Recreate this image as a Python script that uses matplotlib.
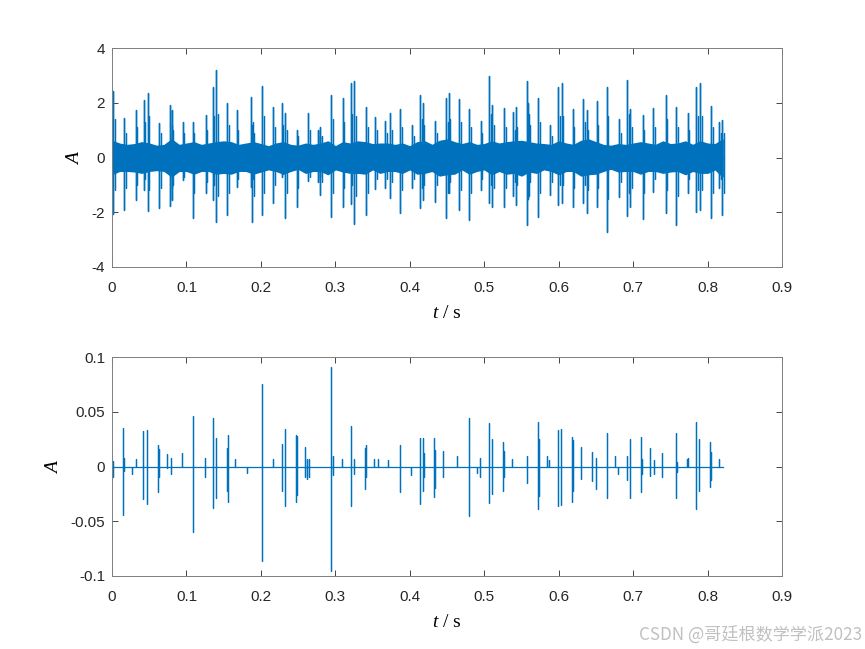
import numpy as np
import matplotlib
matplotlib.use('Agg')
import matplotlib.pyplot as plt

plt.rcParams['axes.unicode_minus'] = False
plt.rcParams['font.family'] = ['Liberation Sans', 'DejaVu Sans']
plt.rcParams['mathtext.fontset'] = 'custom'
plt.rcParams['mathtext.it'] = 'Liberation Serif:italic'
plt.rcParams['mathtext.rm'] = 'Liberation Serif'

blue = '#0072BD'

# ---- top panel: raw signal ----
# dense background band, sampled every 10 ms
t_env = np.round(np.arange(0, 0.821, 0.01), 2)
band_up = [0.6, 0.5, 0.45, 0.48, 0.55, 0.5, 0.42, 0.45, 0.65, 0.45,
           0.5, 0.55, 0.45, 0.5, 0.55, 0.58, 0.55, 0.45, 0.5, 0.55,
           0.48, 0.4, 0.5, 0.55, 0.45, 0.42, 0.5, 0.45, 0.5, 0.58,
           0.4, 0.55, 0.5, 0.58, 0.55, 0.48, 0.5, 0.5, 0.45, 0.5,
           0.4, 0.55, 0.58, 0.45, 0.6, 0.65, 0.55, 0.48, 0.55, 0.45,
           0.48, 0.58, 0.5, 0.55, 0.58, 0.6, 0.55, 0.5, 0.48, 0.45,
           0.58, 0.5, 0.45, 0.6, 0.65, 0.55, 0.45, 0.42, 0.48, 0.45,
           0.5, 0.55, 0.5, 0.45, 0.58, 0.48, 0.5, 0.58, 0.45, 0.58,
           0.5, 0.48, 0.65]
band_lo = [-0.6, -0.48, -0.48, -0.5, -0.55, -0.48, -0.45, -0.48, -0.68, -0.48,
           -0.48, -0.58, -0.48, -0.48, -0.58, -0.55, -0.58, -0.48, -0.48, -0.58,
           -0.5, -0.42, -0.48, -0.58, -0.48, -0.4, -0.55, -0.48, -0.48, -0.6,
           -0.42, -0.5, -0.55, -0.55, -0.58, -0.42, -0.55, -0.48, -0.48, -0.55,
           -0.42, -0.58, -0.55, -0.48, -0.65, -0.6, -0.58, -0.42, -0.58, -0.48,
           -0.42, -0.6, -0.48, -0.58, -0.55, -0.65, -0.5, -0.55, -0.42, -0.48,
           -0.6, -0.48, -0.48, -0.65, -0.6, -0.58, -0.48, -0.4, -0.5, -0.48,
           -0.48, -0.58, -0.48, -0.48, -0.55, -0.5, -0.48, -0.6, -0.48, -0.55,
           -0.55, -0.42, -0.68]

# impulses: time, positive peak, negative peak
sp_t = [0.0018, 0.016, 0.0318, 0.0425, 0.048, 0.0636, 0.078, 0.080, 0.095,
        0.1084, 0.1258, 0.135, 0.1402, 0.155, 0.1675, 0.1867, 0.188, 0.202,
        0.2167, 0.228, 0.2324, 0.2481, 0.2638, 0.2772, 0.2794, 0.2942, 0.3099,
        0.3206, 0.3251, 0.3412, 0.3533, 0.3667, 0.3735, 0.3873, 0.4034, 0.4137,
        0.4174, 0.4339, 0.4487, 0.4523, 0.4661, 0.480, 0.4953, 0.5064, 0.5109,
        0.5266, 0.539, 0.5423, 0.5579, 0.559, 0.5727, 0.5884, 0.5996, 0.6041,
        0.6189, 0.6332, 0.6377, 0.6511, 0.6646, 0.6811, 0.6923, 0.6959, 0.7129,
        0.7272, 0.7438, 0.7577, 0.7734, 0.7845, 0.7899, 0.8047, 0.8158, 0.8198]
sp_up = [2.44, 1.43, 1.74, 2.1, 2.37, 1.25, 1.92, 1.74, 1.31,
         1.31, 1.55, 2.56, 3.2, 1.98, 1.74, 2.22, 1.2, 2.61,
         1.86, 1.98, 1.61, 1.0, 1.61, 1.0, 1.13, 2.28, 2.19,
         2.73, 2.8, 1.86, 1.47, 1.33, 1.64, 1.76, 1.19, 2.28,
         1.98, 1.33, 2.16, 2.35, 2.13, 1.76, 1.34, 2.98, 1.92,
         1.82, 1.68, 1.86, 2.8, 1.98, 2.16, 1.19, 2.59, 2.71,
         1.76, 2.13, 1.74, 2.08, 2.56, 1.4, 2.83, 1.76, 1.55,
         1.8, 2.28, 1.86, 1.64, 2.56, 2.71, 1.88, 1.31, 1.37]
sp_lo = [-2.05, -1.9, -1.55, -1.2, -1.94, -1.86, -1.76, -1.55, -0.82,
         -2.22, -1.31, -1.55, -2.34, -2.1, -1.07, -1.07, -2.37, -2.1,
         -1.68, -0.7, -2.22, -1.8, -0.85, -0.9, -1.37, -2.19, -1.8,
         -1.7, -2.43, -2.1, -1.16, -1.13, -1.49, -2.04, -1.13, -1.86,
         -1.55, -1.61, -2.22, -1.3, -1.92, -2.28, -1.2, -1.67, -1.8,
         -1.8, -1.4, -1.74, -2.47, -1.5, -2.16, -1.37, -1.74, -1.67,
         -1.8, -1.67, -2.04, -1.8, -2.71, -1.43, -2.14, -1.8, -2.26,
         -1.25, -2.04, -2.47, -1.3, -1.98, -1.92, -2.22, -1.1, -2.1]
# ringing right after each impulse (second, smaller swing)
ring_up = [1.4, 0.9, 1.1, 1.3, 1.5, 0.9, 1.2, 1.0, 0.9,
           0.9, 1.0, 1.5, 1.6, 1.2, 1.0, 1.3, 0.9, 1.5,
           1.1, 1.2, 1.0, 0.8, 1.0, 0.8, 0.8, 1.4, 1.3,
           1.6, 1.5, 1.1, 1.0, 0.9, 1.0, 1.1, 0.8, 1.4,
           1.2, 0.9, 1.3, 1.4, 1.3, 1.1, 0.9, 1.6, 1.2,
           1.1, 1.0, 1.1, 1.6, 1.2, 1.3, 0.8, 1.5, 1.5,
           1.1, 1.3, 1.0, 1.2, 1.5, 0.9, 1.6, 1.1, 1.0,
           1.1, 1.4, 1.1, 1.0, 1.5, 1.5, 1.1, 0.9, 0.9]
ring_lo = [-1.2, -1.1, -1.0, -0.8, -1.2, -1.1, -1.1, -1.0, -0.7,
           -1.3, -0.9, -1.0, -1.4, -1.3, -0.8, -0.8, -1.4, -1.3,
           -1.0, -0.6, -1.3, -1.1, -0.7, -0.7, -0.9, -1.3, -1.1,
           -1.0, -1.4, -1.3, -0.8, -0.8, -0.9, -1.2, -0.8, -1.1,
           -1.0, -1.0, -1.3, -0.9, -1.2, -1.3, -0.8, -1.0, -1.1,
           -1.1, -0.9, -1.0, -1.4, -0.9, -1.3, -0.9, -1.0, -1.0,
           -1.1, -1.0, -1.2, -1.1, -1.5, -0.9, -1.3, -1.1, -1.3,
           -0.8, -1.2, -1.4, -0.8, -1.2, -1.2, -1.3, -0.8, -1.3]
ring_lag = 0.0022

# ---- bottom panel: extracted impulse component ----
im_t = [0.001, 0.0152, 0.0165, 0.0273, 0.0322, 0.042, 0.0475, 0.0614, 0.0632,
        0.0739, 0.0797, 0.0945, 0.1084, 0.125, 0.1353, 0.1402, 0.1545, 0.1558,
        0.1657, 0.1818, 0.2011, 0.2167, 0.228, 0.2324, 0.2472, 0.2488, 0.2589,
        0.2624, 0.2651, 0.2942, 0.2965, 0.309, 0.3206, 0.3246, 0.3399, 0.3412,
        0.3515, 0.3573, 0.3703, 0.3869, 0.4017, 0.4133, 0.4174, 0.4192, 0.4321,
        0.4338, 0.4442, 0.463, 0.4792, 0.4899, 0.4944, 0.506, 0.5109, 0.5248,
        0.527, 0.537, 0.557, 0.5719, 0.5737, 0.584, 0.587, 0.5987, 0.6032,
        0.6179, 0.6197, 0.630, 0.6452, 0.6502, 0.665, 0.6761, 0.6802, 0.6914,
        0.6963, 0.7106, 0.712, 0.7227, 0.7285, 0.7384, 0.7573, 0.7587, 0.772,
        0.7738, 0.7841, 0.7886, 0.8033, 0.8047, 0.8154]
im_up = [0.005, 0.035, 0.008, 0.0, 0.007, 0.032, 0.033, 0.020, 0.016,
         0.011, 0.008, 0.012, 0.046, 0.008, 0.044, 0.026, 0.017, 0.029,
         0.007, 0.0, 0.075, 0.007, 0.021, 0.034, 0.029, 0.028, 0.018,
         0.007, 0.007, 0.091, 0.010, 0.007, 0.037, 0.007, 0.017, 0.020,
         0.007, 0.007, 0.006, 0.020, 0.0, 0.026, 0.026, 0.012, 0.026,
         0.015, 0.014, 0.010, 0.044, 0.0, 0.008, 0.040, 0.025, 0.022,
         0.014, 0.007, 0.010, 0.041, 0.025, 0.010, 0.006, 0.033, 0.034,
         0.027, 0.024, 0.018, 0.013, 0.008, 0.031, 0.010, 0.0, 0.010,
         0.025, 0.027, 0.007, 0.017, 0.006, 0.012, 0.031, 0.004, 0.007,
         0.008, 0.041, 0.025, 0.022, 0.013, 0.007]
im_lo = [-0.010, -0.044, -0.004, -0.007, 0.0, -0.030, -0.034, -0.023, -0.010,
         -0.001, -0.007, 0.0, -0.060, -0.010, -0.038, -0.029, -0.022, -0.032,
         0.0, -0.006, -0.086, 0.0, -0.022, -0.036, -0.032, -0.026, -0.010,
         -0.011, -0.010, -0.095, -0.008, 0.0, -0.036, -0.007, -0.021, -0.010,
         0.0, 0.0, 0.0, -0.023, -0.008, -0.034, -0.022, -0.010, -0.028,
         -0.020, -0.010, 0.0, -0.045, -0.006, -0.010, -0.033, -0.025, -0.022,
         -0.010, 0.0, -0.015, -0.039, -0.027, 0.0, 0.0, -0.036, -0.035,
         -0.032, -0.022, -0.011, -0.013, -0.021, -0.029, 0.0, -0.007, -0.012,
         -0.029, -0.023, -0.007, -0.009, -0.007, -0.010, -0.029, -0.005, 0.0,
         0.0, -0.039, -0.022, -0.019, -0.012, 0.0]
t_end = 0.821


def spike_path(ts, ups, los, t0=0.0, t1=t_end):
    xs, ys = [t0], [0.0]
    for t, u, l in zip(ts, ups, los):
        xs += [t, t, t, t]
        ys += [0.0, u, l, 0.0]
    xs.append(t1)
    ys.append(0.0)
    return np.array(xs), np.array(ys)


fig = plt.figure(figsize=(8.65, 6.49), dpi=100)
ax1 = fig.add_axes([0.1295, 0.5886, 0.7746, 0.3374])
ax2 = fig.add_axes([0.1295, 0.1125, 0.7746, 0.3374])

ax1.fill_between(t_env, band_lo, band_up, color=blue, linewidth=1.2, edgecolor=blue)
x1, y1 = spike_path(sp_t, sp_up, sp_lo)
ax1.plot(x1, y1, color=blue, linewidth=1.0)
x1r, y1r = spike_path(np.array(sp_t) + ring_lag, ring_up, ring_lo)
ax1.plot(x1r, y1r, color=blue, linewidth=0.9)
ax1.set_ylim(-4, 4)
ax1.set_yticks([-4, -2, 0, 2, 4])

x2, y2 = spike_path(im_t, im_up, im_lo)
ax2.plot(x2, y2, color=blue, linewidth=0.9)
ax2.set_ylim(-0.1, 0.1)
ax2.set_yticks([-0.1, -0.05, 0, 0.05, 0.1])
ax2.set_yticklabels(['-0.1', '-0.05', '0', '0.05', '0.1'])

for ax in (ax1, ax2):
    ax.set_xlim(0, 0.9)
    ax.set_xticks(np.round(np.arange(0, 0.91, 0.1), 1))
    ax.set_xticklabels(['0', '0.1', '0.2', '0.3', '0.4', '0.5', '0.6', '0.7', '0.8', '0.9'])
    ax.tick_params(direction='in', top=True, right=True, length=4, width=0.6,
                   labelsize=11, colors='#262626')
    ax.tick_params(axis='x', pad=10)
    ax.tick_params(axis='y', pad=5)
    for s in ax.spines.values():
        s.set_color('#7f7f7f')
        s.set_linewidth(0.7)
    ax.set_xlabel('$t$ / s', fontfamily='Liberation Serif', fontsize=14, labelpad=7)
    ax.set_ylabel('$A$', fontfamily='Liberation Serif', fontsize=14, labelpad=6)

fig.text(0.997, 0.022, 'CSDN @哥廷根数学学派2023', ha='right', va='center',
         fontsize=12.3, color='#c0c0c0',
         family=['Noto Sans CJK SC', 'DejaVu Sans'])

fig.savefig('out.png', dpi=100)
